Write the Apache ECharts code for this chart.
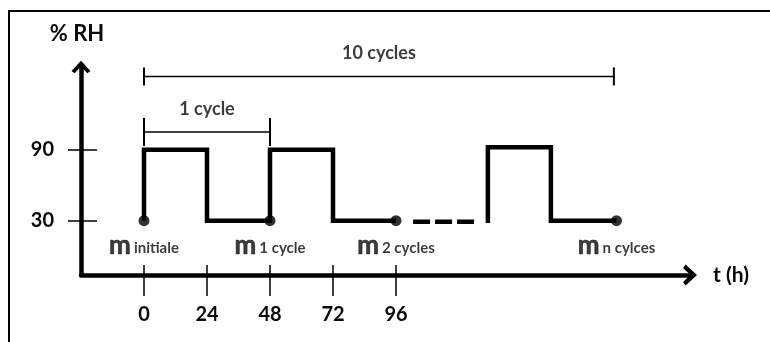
<!DOCTYPE html>
<html>
<head>
<meta charset="utf-8">
<script src="https://cdn.jsdelivr.net/npm/echarts@6/dist/echarts.min.js"></script>
<style>
  html, body { margin: 0; padding: 0; background: #fff; }
  #chart { width: 770px; height: 342px; }
</style>
</head>
<body>
<div id="chart"></div>
<script>
// axis ticks (hours, % RH)
const ticksX = [0, 24, 48, 72, 96];
const ticksY = [30, 90];

// humidity profile
const wave = [[0, 30], [0, 90], [24, 90], [24, 30], [48, 30], [48, 90], [72, 90], [72, 30], [96, 30]];
const gapDash = [[102.5, 29], [126, 29]];
const lastCycle = [[131, 28], [131, 92], [155, 92], [155, 30], [180, 30]];

// weighing points
const weighings = [[0, 30], [48, 30], [96, 30], [180, 30]];
const weighingNames = ['initiale', '1 cycle', '2 cycles', 'n cylces'];

// brackets
const bracket10 = [[0, 152], [179, 152]];
const bracket1 = [[0, 105], [48, 105]];
const bracketLabels = [[89.5, 152, '10 cycles'], [24, 105, '1 cycle']];

const FONT = 'Lato';
const INK = '#0a0a0a';
const chevron = 'path://M12,0 L24,13 L20,16 L12,7.5 L4,16 L0,13 Z';

const chart = echarts.init(document.getElementById('chart'));

chart.setOption({
  animation: false,
  textStyle: { fontFamily: FONT },
  grid: { left: 81, right: 80, top: 67, bottom: 67 },
  xAxis: [
    {
      type: 'value', min: -24, max: 208, position: 'bottom',
      name: 't (h)', nameLocation: 'end', nameGap: 23,
      nameTextStyle: { fontSize: 21, fontWeight: 'bold', color: INK, fontFamily: FONT },
      axisLine: {
        onZero: false,
        lineStyle: { color: '#000', width: 4.5 },
        symbol: ['none', chevron], symbolSize: [24, 14]
      },
      axisTick: { show: true, inside: false, length: 21, customValues: ticksX, lineStyle: { color: '#000', width: 1.5 } },
      axisLabel: { customValues: ticksX, margin: 30, fontSize: 20, fontWeight: 'bold', color: INK, fontFamily: FONT },
      splitLine: { show: false }
    },
    {
      type: 'value', min: -24, max: 208, position: 'bottom', offset: 0,
      axisLine: { show: false, onZero: false },
      axisTick: { show: true, inside: true, length: 10, customValues: ticksX, lineStyle: { color: '#000', width: 1.5 } },
      axisLabel: { show: false },
      splitLine: { show: false }
    }
  ],
  yAxis: [
    {
      type: 'value', min: -16, max: 160, position: 'left',
      name: '% RH', nameLocation: 'end', nameGap: 22,
      nameTextStyle: { fontSize: 22, fontWeight: 'bold', color: INK, fontFamily: FONT, padding: [0, 8, 0, 0] },
      axisLine: {
        show: true, onZero: false,
        lineStyle: { color: '#000', width: 4.5 },
        symbol: ['none', chevron], symbolSize: [19, 18]
      },
      axisTick: { show: true, inside: false, length: 13, customValues: ticksY, lineStyle: { color: '#000', width: 1.5 } },
      axisLabel: { customValues: ticksY, margin: 27, fontSize: 20, fontWeight: 'bold', color: INK, fontFamily: FONT },
      splitLine: { show: false }
    },
    {
      type: 'value', min: -16, max: 160, position: 'left', offset: 0,
      axisLine: { show: false, onZero: false },
      axisTick: { show: true, inside: true, length: 16, customValues: ticksY, lineStyle: { color: '#000', width: 1.5 } },
      axisLabel: { show: false },
      splitLine: { show: false }
    }
  ],
  graphic: [
    { type: 'rect', shape: { x: 9, y: 11, width: 820, height: 400 }, style: { fill: 'none', stroke: '#000', lineWidth: 2 }, silent: true }
  ],
  series: [
    {
      type: 'line', data: wave, showSymbol: false, clip: false,
      lineStyle: { color: '#000', width: 4.5, join: 'miter', cap: 'butt' }
    },
    {
      type: 'line', data: gapDash, showSymbol: false, clip: false,
      lineStyle: { color: '#000', width: 4.5, type: [17, 5], cap: 'butt' }
    },
    {
      type: 'line', data: lastCycle, showSymbol: false, clip: false,
      lineStyle: { color: '#000', width: 4.5, join: 'miter', cap: 'butt' }
    },
    {
      type: 'line', data: bracket10, symbol: 'rect', symbolSize: [2, 18], clip: false,
      itemStyle: { color: '#000' }, lineStyle: { color: '#000', width: 1.5 }
    },
    {
      type: 'line', data: bracket1, symbol: 'rect', symbolSize: [2, 28], clip: false,
      itemStyle: { color: '#000' }, lineStyle: { color: '#000', width: 1.5 }
    },
    {
      type: 'scatter', symbolSize: 0, clip: false,
      data: bracketLabels.map(d => ({ value: [d[0], d[1]], name: d[2] })),
      label: {
        show: true, position: 'top', distance: 14,
        formatter: p => p.name,
        fontSize: 18, fontWeight: 'bold', color: INK, fontFamily: FONT
      }
    },
    {
      type: 'scatter', symbol: 'circle', symbolSize: 11, clip: false,
      itemStyle: { color: '#000' },
      data: weighings.map((d, i) => ({ value: d, name: weighingNames[i] })),
      label: {
        show: true, position: 'bottom', distance: 8,
        formatter: p => '{m|m} {s|' + p.name + '}',
        rich: {
          m: { fontSize: 26, fontWeight: 'bold', color: INK, fontFamily: FONT, verticalAlign: 'bottom', lineHeight: 24, textBorderColor: INK, textBorderWidth: 0.6 },
          s: { fontSize: 15, fontWeight: 'bold', color: INK, fontFamily: FONT, verticalAlign: 'bottom', lineHeight: 24, padding: [0, 0, 2, 0] }
        }
      }
    }
  ]
});
</script>
</body>
</html>
